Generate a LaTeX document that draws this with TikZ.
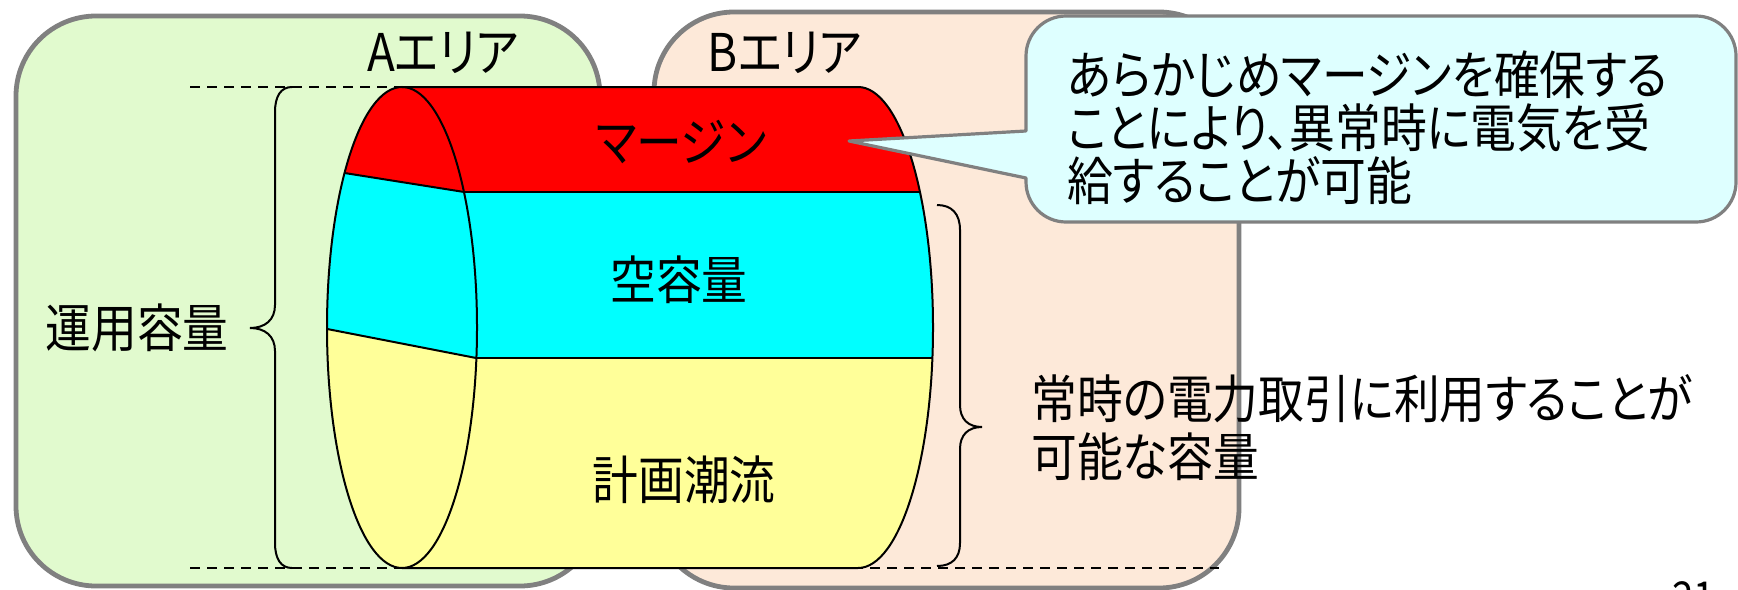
\documentclass[tikz,border=0pt]{standalone}
\usepackage{fontspec}
\setmainfont{Noto Sans CJK JP}[RawFeature=+palt, FakeStretch=0.88]
\definecolor{areagray}{RGB}{128,128,128}
\definecolor{areaA}{RGB}{225,250,206}
\definecolor{areaB}{RGB}{253,233,217}
\definecolor{notefill}{RGB}{222,255,255}
\definecolor{cylred}{RGB}{255,0,0}
\definecolor{cylcyan}{RGB}{0,255,255}
\definecolor{cylyellow}{RGB}{255,255,153}
\begin{document}
\begin{tikzpicture}[x=0.5pt,y=-0.5pt,
  areabox/.style={draw=areagray, line width=2.4pt, rounded corners=40pt},
  outline/.style={draw=black, line width=1pt},
  guide/.style={draw=black, line width=1pt, dash pattern=on 5pt off 3.5pt},
  bracepath/.style={draw=black, line width=1pt},
  callout/.style={draw=areagray, line width=1.6pt, fill=notefill, line join=round},
  jp/.style={font=\fontsize{26pt}{28pt}\selectfont, inner sep=0pt, text=black},
]
\useasboundingbox (0,0) rectangle (1738,589);

% the two areas
\draw[areabox, fill=areaA] (16,16) rectangle (600,586);
\draw[areabox, fill=areaB] (654,12) rectangle (1239,588);

% guide lines at the top and bottom of the capacity
\draw[guide] (190,87) -- (402,87);
\draw[guide] (190,568) -- (1219,568);

% cylinder body, split into three bands
\begin{scope}
  \clip (402,87) -- (858,87) arc[start angle=-90, end angle=90, x radius=75, y radius=240.5] -- (402,568) -- cycle;
  \fill[cylred] (390,80) rectangle (940,192);
  \fill[cylcyan] (390,192) rectangle (940,358);
  \fill[cylyellow] (390,358) rectangle (940,575);
\end{scope}

% front face of the cylinder
\begin{scope}
  \clip (402,327.5) ellipse [x radius=75, y radius=240.5];
  \fill[cylyellow] (320,80) rectangle (490,575);
  \fill[cylcyan] (320,80) -- (490,80) -- (490,360.7) -- (320,327.6) -- cycle;
  \fill[cylred] (320,80) -- (490,80) -- (490,196.1) -- (320,169.1) -- cycle;
  \draw[outline] (320,169.1) -- (490,196.1);
  \draw[outline] (320,327.6) -- (490,360.7);
\end{scope}

% cylinder outlines
\draw[outline] (402,327.5) ellipse [x radius=75, y radius=240.5];
\draw[outline] (402,87) -- (858,87) arc[start angle=-90, end angle=90, x radius=75, y radius=240.5] -- (402,568);
\draw[outline] (464,192) -- (920,192);
\draw[outline] (476,358) -- (932,358);

% braces
\draw[bracepath] (292,87) .. controls (281,87) and (275,96) .. (275,112) -- (275,305)
  .. controls (275,320) and (265,328) .. (250,328)
  .. controls (265,328) and (275,336) .. (275,351) -- (275,543)
  .. controls (275,559) and (281,568) .. (292,568);
\draw[bracepath] (937,205) .. controls (952,205) and (960,214) .. (960,230) -- (960,405)
  .. controls (960,419) and (968,427) .. (982,427)
  .. controls (968,427) and (960,435) .. (960,449) -- (960,543)
  .. controls (960,558) and (952,566) .. (937,566);

% callout
\draw[callout] (1026,131) -- (849,141) -- (1026,178) -- (1026,182)
  arc[start angle=180, end angle=90, radius=40] -- (1696,222)
  arc[start angle=90, end angle=0, radius=40] -- (1736,56)
  arc[start angle=0, end angle=-90, radius=40] -- (1066,16)
  arc[start angle=-90, end angle=-180, radius=40] -- cycle;

% labels
\node[jp] (areaAlbl) at (443,53) {Aエリア};
\node[jp] (areaBlbl) at (785,53) {Bエリア};
\node[jp] (opcap) at (137,328) {運用容量};
\node[jp] (margin) at (681,142) {マージン};
\node[jp] (freecap) at (679,280) {空容量};
\node[jp] (planflow) at (684,480) {計画潮流};
\node[jp, anchor=west, align=left, font=\fontsize{26pt}{26.5pt}\selectfont] (note) at (1067,128)
  {あらかじめマージンを確保する\\ことにより、異常時に電気を受\\給することが可能};
\node[jp, anchor=west, align=left, font=\fontsize{26pt}{29pt}\selectfont] (usable) at (1031,428)
  {常時の電力取引に利用することが\\可能な容量};
\node[anchor=north west, inner sep=0pt, font=\fontsize{22pt}{24pt}\selectfont] (pageno) at (1672,581) {21};
\end{tikzpicture}
\end{document}
